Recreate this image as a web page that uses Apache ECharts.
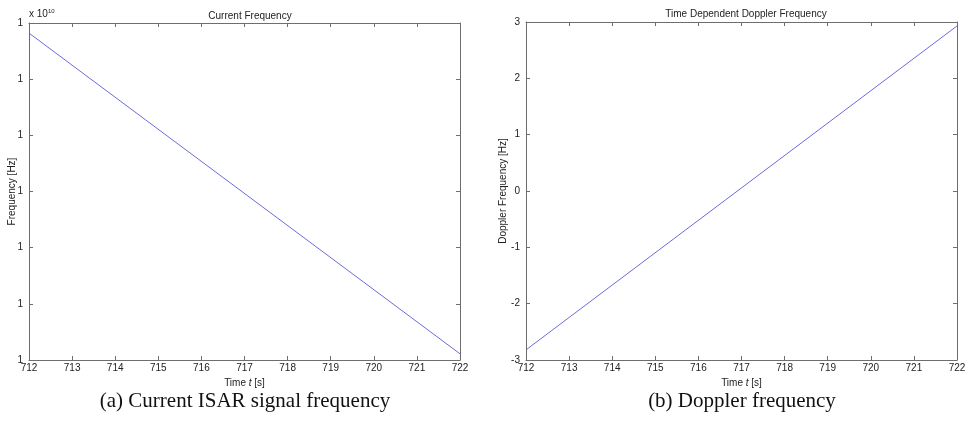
<!DOCTYPE html>
<html>
<head>
<meta charset="utf-8">
<script src="https://cdn.jsdelivr.net/npm/echarts@6/dist/echarts.min.js"></script>
<style>
  html, body { margin: 0; padding: 0; background: #fff; }
  #main { width: 971px; height: 428px; }
</style>
</head>
<body>
<div id="main"></div>
<script>
// time axis (seconds)
let timeRange = [712, 722];
// left plot: frequency, in tick steps (every tick is printed as "1" x 10^10)
let freqTime = [712, 722];
let freqValues = [5.82, 0.11];
let freqTickLabels = ['1', '1', '1', '1', '1', '1', '1'];
// right plot: doppler frequency [Hz]
let dopTime = [712, 722];
let dopValues = [-2.82, 2.93];

let chartDom = document.getElementById('main');
let myChart = echarts.init(chartDom);

let axisColor = '#6e6e6e';
let labelFont = { color: '#222', fontSize: 10, fontFamily: 'Liberation Sans' };

function timeAxis(grid, top) {
    return {
        type: 'value',
        gridIndex: grid,
        position: top ? 'top' : 'bottom',
        min: timeRange[0],
        max: timeRange[1],
        interval: 1,
        name: top ? '' : 'Time {i|t} [s]',
        nameLocation: 'middle',
        nameGap: 18,
        nameTextStyle: {
            color: '#222', fontSize: 10, fontFamily: 'Liberation Sans',
            rich: { i: { fontStyle: 'italic', fontSize: 10, fontFamily: 'Liberation Sans', color: '#222' } }
        },
        axisLine: { show: true, onZero: false, lineStyle: { color: axisColor, width: 1 } },
        axisTick: { show: true, inside: true, length: 4, lineStyle: { color: axisColor } },
        axisLabel: Object.assign({ show: !top, margin: 3 }, labelFont),
        splitLine: { show: false }
    };
}

function valueAxis(grid, right, min, max, name, gap, fmt) {
    return {
        type: 'value', gridIndex: grid, position: right ? 'right' : 'left',
        min: min, max: max, interval: 1,
        name: right ? '' : name, nameLocation: 'middle', nameGap: gap,
        nameMoveOverlap: false,
        nameTextStyle: { color: '#222', fontSize: 10, fontFamily: 'Liberation Sans' },
        axisLine: { show: true, onZero: false, lineStyle: { color: axisColor } },
        axisTick: { show: true, inside: true, length: 4, lineStyle: { color: axisColor } },
        axisLabel: Object.assign({ show: !right, margin: 6, formatter: fmt }, labelFont),
        splitLine: { show: false }
    };
}

let freqFmt = function (v) { return freqTickLabels[Math.round(v)]; };

option = {
    animation: false,
    title: [
        { text: 'Current Frequency', left: 245, top: 6, textAlign: 'center',
          textStyle: { fontSize: 10, fontWeight: 'normal', color: '#222', fontFamily: 'Liberation Sans' } },
        { text: 'Time Dependent Doppler Frequency', left: 741, top: 4, textAlign: 'center',
          textStyle: { fontSize: 10, fontWeight: 'normal', color: '#222', fontFamily: 'Liberation Sans' } }
    ],
    grid: [
        { left: 29, top: 23, width: 431, height: 337 },
        { left: 526, top: 22, width: 431, height: 338 }
    ],
    xAxis: [timeAxis(0, false), timeAxis(0, true), timeAxis(1, false), timeAxis(1, true)],
    yAxis: [
        valueAxis(0, false, 0, 6, 'Frequency [Hz]', 12, freqFmt),
        valueAxis(0, true, 0, 6, '', 0, null),
        valueAxis(1, false, -3, 3, 'Doppler Frequency [Hz]', 18, null),
        valueAxis(1, true, -3, 3, '', 0, null)
    ],
    graphic: [
        { type: 'text', x: 29, y: 8,
          style: { text: 'x 10{s|10}', rich: { s: { fontSize: 6, verticalAlign: 'top', padding: [0, 0, 6, 0], fill: '#222' } },
                   fontSize: 10, fill: '#222', fontFamily: 'Liberation Sans' } },
        { type: 'text', x: 245, y: 391,
          style: { text: '(a) Current ISAR signal frequency', textAlign: 'center', fontSize: 21, fill: '#111', fontFamily: 'Liberation Serif' } },
        { type: 'text', x: 742, y: 391,
          style: { text: '(b) Doppler frequency', textAlign: 'center', fontSize: 21, fill: '#111', fontFamily: 'Liberation Serif' } }
    ],
    series: [
        {
            type: 'line', xAxisIndex: 0, yAxisIndex: 0,
            data: freqTime.map(function (t, i) { return [t, freqValues[i]]; }),
            showSymbol: false,
            lineStyle: { color: '#5a5ad8', width: 0.9 }
        },
        {
            type: 'line', xAxisIndex: 2, yAxisIndex: 2,
            data: dopTime.map(function (t, i) { return [t, dopValues[i]]; }),
            showSymbol: false,
            lineStyle: { color: '#5a5ad8', width: 0.9 }
        }
    ]
};

option && myChart.setOption(option);
</script>
</body>
</html>
